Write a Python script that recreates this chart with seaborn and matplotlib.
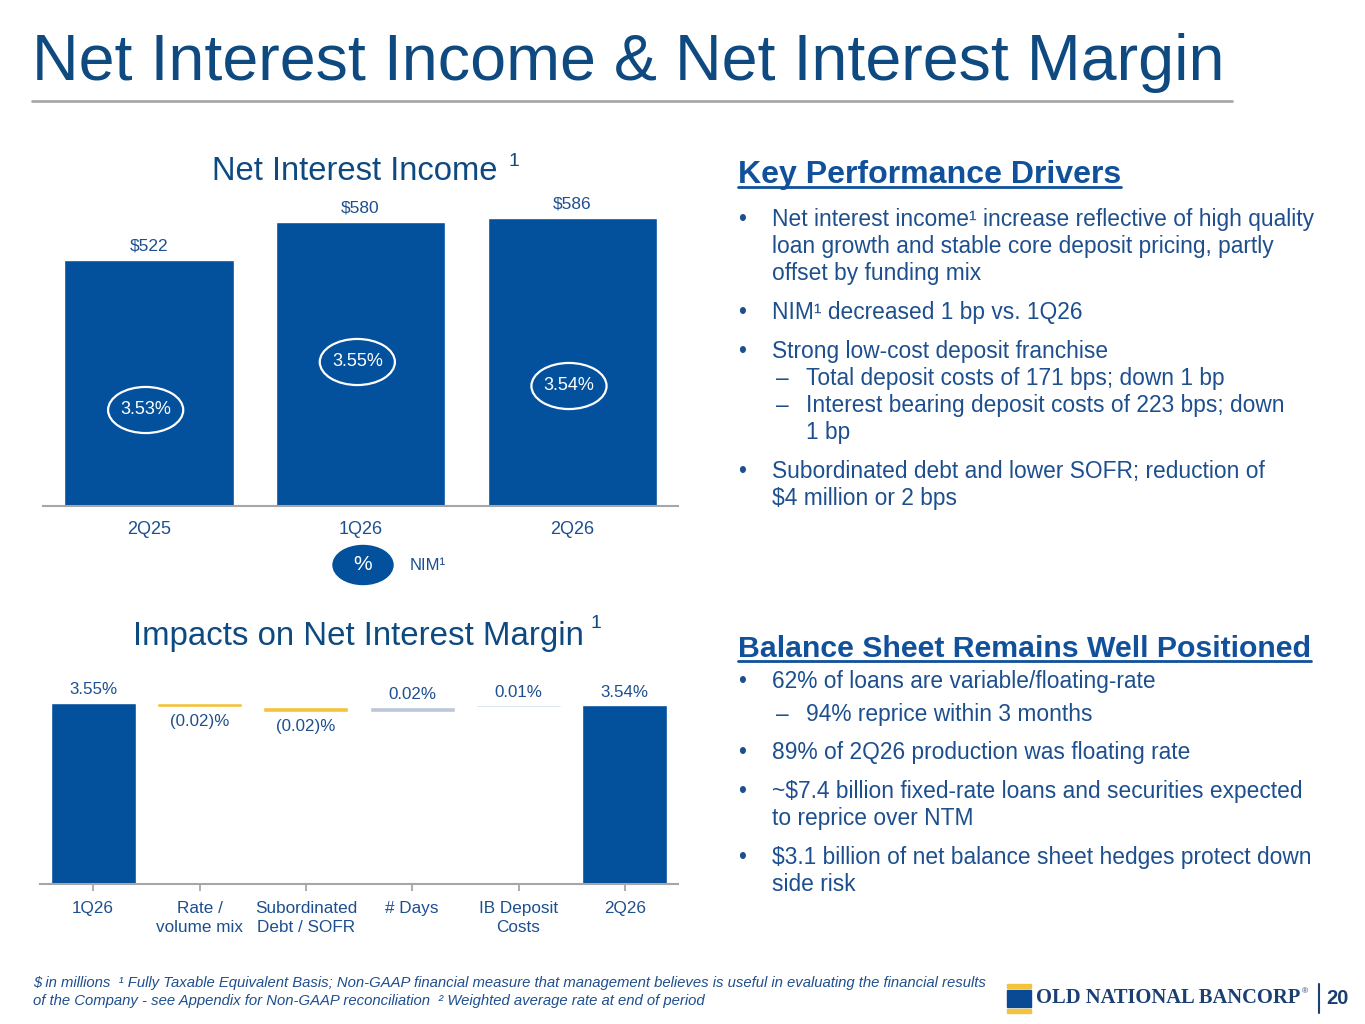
import numpy as np
import pandas as pd
import matplotlib
matplotlib.use("Agg")
import matplotlib.pyplot as plt
import seaborn as sns
from matplotlib.patches import Ellipse, Rectangle
from matplotlib.lines import Line2D

# ---- data ----
quarters = ["2Q25", "1Q26", "2Q26"]
nii = [522, 580, 586]
nim = [3.53, 3.55, 3.54]

wf_labels = ["1Q26", "Rate /\nvolume mix", "Subordinated\nDebt / SOFR",
             "# Days", "IB Deposit\nCosts", "2Q26"]
wf_start = 3.55
wf_deltas = [-0.02, -0.02, 0.02, 0.01]
wf_end = 3.54

kpd_lines = [
    ("b", "Net interest income\u00b9 increase reflective of high quality"),
    ("c", "loan growth and stable core deposit pricing, partly"),
    ("c", "offset by funding mix"),
    ("b", "NIM\u00b9 decreased 1 bp vs. 1Q26"),
    ("b", "Strong low-cost deposit franchise"),
    ("d", "Total deposit costs of 171 bps; down 1 bp"),
    ("d", "Interest bearing deposit costs of 223 bps; down"),
    ("dc", "1 bp"),
    ("b", "Subordinated debt and lower SOFR; reduction of"),
    ("c", "$4 million or 2 bps"),
]
kpd_base = [226, 253, 280, 319, 358, 385, 412, 439, 478, 505]

bs_lines = [
    ("b", "62% of loans are variable/floating-rate"),
    ("d", "94% reprice within 3 months"),
    ("b", "89% of 2Q26 production was floating rate"),
    ("b", "~$7.4 billion fixed-rate loans and securities expected"),
    ("c", "to reprice over NTM"),
    ("b", "$3.1 billion of net balance sheet hedges protect down"),
    ("c", "side risk"),
]
bs_base = [688, 721, 759, 798, 825, 864, 891]

# ---- style ----
BAR = "#03509C"
TITLE = "#0E4A80"
TXT = "#1D4F8F"
HEAD = "#11519B"
GRID = "#A6A6A6"
YELLOW = "#F5C33B"
POS = ["#BDC7D7", "#CCD5E3"]

W, H = 1365, 1024
sns.set_theme(style="white")
plt.rcParams['font.family'] = ['Liberation Sans', 'DejaVu Sans']

fig = plt.figure(figsize=(W / 100, H / 100), dpi=100)


def fx(x):
    return x / W


def fy(y):
    return 1 - y / H


# ---- title ----
fig.text(fx(32), fy(80), "Net Interest Income & Net Interest Margin",
         fontsize=46.5, color=TITLE, va="baseline", ha="left")
fig.add_artist(Line2D([fx(32), fx(1232)], [fy(101), fy(101)],
                      color="#A9A9A9", lw=2, transform=fig.transFigure))

# ---- net interest income bars ----
ax1 = fig.add_axes([fx(43), fy(506), (678 - 43) / W, (506 - 200) / H])
df = pd.DataFrame({"quarter": quarters, "nii": nii})
sns.barplot(data=df, x="quarter", y="nii", color=BAR, saturation=1,
            width=0.8, ax=ax1)
ax1.set_xlim(-0.5, 2.5)
ax1.set_ylim(147, 614)
for s in ["left", "right", "top"]:
    ax1.spines[s].set_visible(False)
ax1.spines["bottom"].set_color(GRID)
ax1.spines["bottom"].set_linewidth(1.5)
ax1.set_yticks([])
ax1.set_xlabel("")
ax1.set_ylabel("")
ax1.tick_params(axis="x", length=0, pad=11, labelsize=13, labelcolor=TXT)
for i, v in enumerate(nii):
    ax1.annotate(f"${v}", (i, v), xytext=(0, 5), textcoords="offset points",
                 ha="center", va="bottom", fontsize=12.5, color=TXT)

ax1b = ax1.twinx()
ax1b.set_ylim(3.49, 3.6175)
ax1b.axis("off")
for i, v in enumerate(nim):
    ax1b.add_patch(Ellipse((i - 0.015, v), 0.355, 0.0192, fill=False,
                           ec="white", lw=1.6))
    ax1b.text(i - 0.015, v, f"{v:.2f}%", ha="center", va="center",
              fontsize=13, color="white")

fig.text(fx(355), fy(172), "Net Interest Income", fontsize=23.6,
         color=TITLE, ha="center", va="center")
fig.text(fx(509), fy(161), "1", fontsize=14, color=TITLE,
         ha="left", va="center")

# legend for NIM
fig.add_artist(Ellipse((fx(363), fy(565)), 60 / W, 39 / H, color=BAR,
                       transform=fig.transFigure))
fig.text(fx(363), fy(565), "%", fontsize=15, color="white",
         ha="center", va="center")
fig.text(fx(410), fy(565), "NIM\u00b9", fontsize=12, color=TXT,
         ha="left", va="center")

# ---- waterfall ----
ax2 = fig.add_axes([fx(40), fy(884), (678 - 40) / W, (884 - 660) / H])
levels = wf_start + np.cumsum([0] + wf_deltas)
xs = np.arange(len(wf_labels))
ax2.bar([0, len(wf_labels) - 1], [wf_start, wf_end], width=0.8, color=BAR)
pos_i = 0
for k, d in enumerate(wf_deltas):
    lo = min(levels[k], levels[k + 1])
    if d < 0:
        c = YELLOW
    else:
        c = POS[pos_i]
        pos_i += 1
    ax2.bar(k + 1, abs(d), bottom=lo, width=0.8, color=c)
    if d < 0:
        ax2.annotate(f"({abs(d):.2f})%", (k + 1, lo), xytext=(0, -5),
                     textcoords="offset points", ha="center", va="top",
                     fontsize=12.2, color=TXT)
    else:
        ax2.annotate(f"{d:.2f}%", (k + 1, lo + d), xytext=(0, 4),
                     textcoords="offset points", ha="center", va="bottom",
                     fontsize=12.2, color=TXT)
for x, v in [(0, wf_start), (len(wf_labels) - 1, wf_end)]:
    ax2.annotate(f"{v:.2f}%", (x, v), xytext=(0, 4),
                 textcoords="offset points", ha="center", va="bottom",
                 fontsize=12.2, color=TXT)
ax2.set_xlim(-0.5, 5.5)
ax2.set_ylim(2.727, 3.745)
for s in ["left", "right", "top"]:
    ax2.spines[s].set_visible(False)
ax2.spines["bottom"].set_color(GRID)
ax2.spines["bottom"].set_linewidth(1.5)
ax2.set_yticks([])
ax2.set_xticks(xs)
ax2.set_xticklabels(wf_labels, linespacing=1.4)
ax2.tick_params(axis="x", length=5, width=1.3, color=GRID, direction="out",
                pad=7, labelsize=12.3, labelcolor=TXT, bottom=True)

fig.text(fx(358), fy(636), "Impacts on Net Interest Margin", fontsize=23.8,
         color=TITLE, ha="center", va="center")
fig.text(fx(590), fy(623), "1", fontsize=14, color=TITLE,
         ha="left", va="center")


# ---- right hand text ----
def heading(x, y, s, size):
    t = fig.text(fx(x), fy(y), s, fontsize=size, fontweight="bold",
                 color=HEAD, ha="left", va="baseline")
    fig.canvas.draw()
    bb = t.get_window_extent()
    fig.add_artist(Line2D([bb.x0 / W, bb.x1 / W], [fy(y + 4), fy(y + 4)],
                          color=HEAD, lw=2, transform=fig.transFigure))


def body(lines, bases):
    for (kind, s), y in zip(lines, bases):
        if kind == "b":
            fig.text(fx(738), fy(y), "\u2022", fontsize=16.4, color=TXT,
                     va="baseline")
            fig.text(fx(772), fy(y), s, fontsize=16.4, color=TXT,
                     va="baseline")
        elif kind == "c":
            fig.text(fx(772), fy(y), s, fontsize=16.4, color=TXT,
                     va="baseline")
        elif kind == "d":
            fig.text(fx(776), fy(y), "\u2013", fontsize=16.4, color=TXT,
                     va="baseline")
            fig.text(fx(806), fy(y), s, fontsize=16.4, color=TXT,
                     va="baseline")
        else:
            fig.text(fx(806), fy(y), s, fontsize=16.4, color=TXT,
                     va="baseline")


heading(738, 183, "Key Performance Drivers", 23.1)
body(kpd_lines, kpd_base)
heading(738, 657, "Balance Sheet Remains Well Positioned", 21.8)
body(bs_lines, bs_base)

# ---- footer ----
fig.text(fx(33), fy(987),
         "$ in millions  \u00b9 Fully Taxable Equivalent Basis; Non-GAAP financial "
         "measure that management believes is useful in evaluating the financial results",
         fontsize=10.75, style="italic", color=TXT, va="baseline")
fig.text(fx(33), fy(1005),
         "of the Company - see Appendix for Non-GAAP reconciliation  \u00b2 Weighted "
         "average rate at end of period",
         fontsize=10.75, style="italic", color=TXT, va="baseline")

# logo
NAVY = "#1B3F72"
fig.add_artist(Rectangle((fx(1007), fy(988)), 24 / W, 4 / H, color=YELLOW,
                         transform=fig.transFigure))
fig.add_artist(Rectangle((fx(1007), fy(1007)), 24 / W, 17 / H, color="#0A4A94",
                         transform=fig.transFigure))
fig.add_artist(Rectangle((fx(1007), fy(1013)), 24 / W, 4 / H, color=YELLOW,
                         transform=fig.transFigure))
logo = fig.text(fx(1036), fy(998), "OLD NATIONAL BANCORP", fontsize=14.8,
                family=["Liberation Serif", "DejaVu Serif"], fontweight="bold",
                color=NAVY, va="center", ha="left")
fig.canvas.draw()
lb = logo.get_window_extent()
fig.text(lb.x1 / W + 2 / W, fy(992), "\u00ae", fontsize=6, color=NAVY,
         va="center", ha="left")
fig.add_artist(Line2D([fx(1319), fx(1319)], [fy(984), fy(1013)], color=NAVY,
                      lw=1.5, transform=fig.transFigure))
fig.text(fx(1326), fy(998), "20", fontsize=14.5, fontweight="bold",
         color=NAVY, va="center", ha="left")

fig.savefig("out.png", dpi=100)
